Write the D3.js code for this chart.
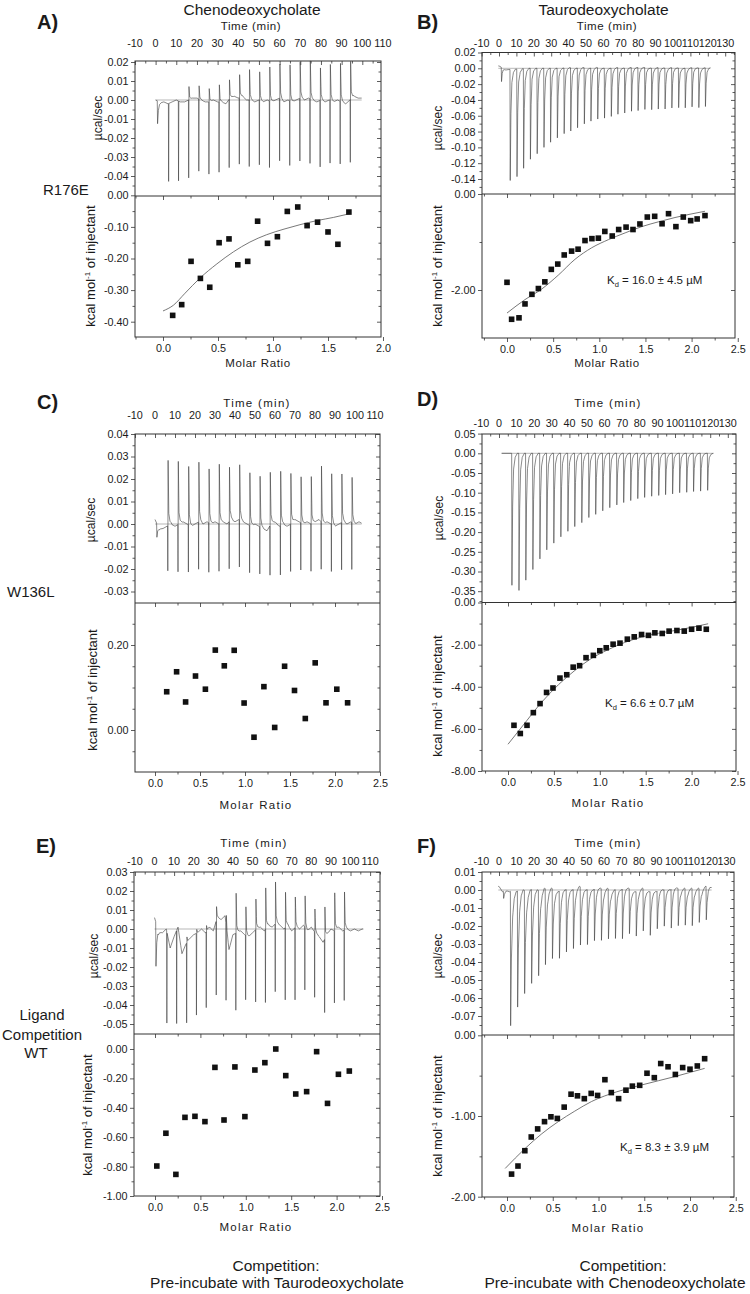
<!DOCTYPE html>
<html><head><meta charset="utf-8">
<script src="https://cdn.jsdelivr.net/npm/d3@7"></script>
<style>
body{margin:0;background:#fff;}
svg text{font-family:"Liberation Sans",Arial,sans-serif;fill:#1a1a1a;}
</style></head><body>
<svg id="c" width="750" height="1294" xmlns="http://www.w3.org/2000/svg"></svg>
<script>
// ================= DATA =================
// ---- Panel A (R176E, Chenodeoxycholate) ----
const aInjT = [6.2, 11.0, 15.9, 20.8, 25.7, 30.6, 35.5, 40.4, 45.2, 50.1, 55.0, 59.9, 64.8, 69.7, 74.6, 79.5, 84.3, 89.2, 94.1];
const aInjMin = [-0.041, -0.042, -0.041, -0.038, -0.038, -0.037, -0.036, -0.035, -0.035, -0.034, -0.035, -0.033, -0.034, -0.033, -0.034, -0.035, -0.033, -0.033, -0.033];
const aInjMax = [0.000, 0.000, 0.007, 0.007, 0.007, 0.009, 0.010, 0.012, 0.016, 0.015, 0.018, 0.018, 0.019, 0.019, 0.020, 0.017, 0.019, 0.020, 0.020];
const aBase = [0.000,-0.001,-0.001,-0.002,-0.001,0.000,-0.001,-0.001,0.000,0.001,0.001,0.000,-0.001,-0.001,0.000,-0.001,-0.001,-0.002,0.001,0.002,0.001,0.002,0.000,0.000,-0.001,0.000,-0.001,0.000,-0.001,0.000,0.001,-0.001,0.000,-0.001,0.000,0.001,0.000,0.001,0.000,-0.001,0.000,-0.001,0.000,-0.001,0.000,-0.001,-0.002,0.000,0.002,0.001,0.001];
const aMR = [0.088, 0.17, 0.255, 0.34, 0.425, 0.51, 0.6, 0.68, 0.77, 0.86, 0.95, 1.04, 1.13, 1.225, 1.31, 1.405, 1.5, 1.59, 1.69];
const aHeat = [-0.38, -0.346, -0.209, -0.263, -0.291, -0.15, -0.138, -0.22, -0.209, -0.082, -0.152, -0.131, -0.051, -0.037, -0.096, -0.085, -0.116, -0.155, -0.053];
const aFitMR = [0.0, 0.094, 0.2, 0.336, 0.49, 0.64, 0.79, 0.94, 1.1, 1.245, 1.4, 1.55, 1.7];
const aFitHeat = [-0.366, -0.348, -0.31, -0.262, -0.217, -0.179, -0.148, -0.125, -0.107, -0.093, -0.08, -0.07, -0.058];
const aTopTicks = [0.02, 0.01, 0.00, -0.01, -0.02, -0.03, -0.04];
const aBotTicks = [0.00, -0.10, -0.20, -0.30, -0.40];
const aTimeTicks = [-10, 0, 10, 20, 30, 40, 50, 60, 70, 80, 90, 100, 110];
const aMRTicks = [0.0, 0.5, 1.0, 1.5, 2.0];

// ---- Panel B (R176E, Taurodeoxycholate) ----
const bInjT = [6.3, 10.2, 14.0, 17.9, 21.8, 25.7, 29.5, 33.4, 37.3, 41.1, 45.0, 48.9, 52.7, 56.6, 60.5, 64.4, 68.2, 72.1, 76.0, 79.8, 83.7, 87.6, 91.4, 95.3, 99.2, 103.1, 106.9, 110.8, 114.7, 118.5];
const bInjMin = [-0.1405, -0.136, -0.126, -0.115, -0.108, -0.100, -0.0935, -0.088, -0.083, -0.080, -0.0755, -0.071, -0.067, -0.065, -0.063, -0.061, -0.059, -0.0566, -0.0553, -0.0545, -0.053, -0.0524, -0.0524, -0.0516, -0.051, -0.050, -0.050, -0.0495, -0.050, -0.049];
const bBase = [0.003,-0.002,-0.001,-0.001,0,0,0,0,0,0,0.001,0,0.001,0,0.001,0,0,0.001,0,0.001,0.001,0.001,0,0.001,0,0.001,0,0,0.001,0,0.001];
const bMR = [0.0, 0.05, 0.13, 0.195, 0.27, 0.34, 0.41, 0.48, 0.55, 0.62, 0.70, 0.77, 0.845, 0.92, 0.99, 1.06, 1.14, 1.21, 1.29, 1.365, 1.44, 1.52, 1.60, 1.68, 1.75, 1.83, 1.91, 1.99, 2.06, 2.145];
const bHeat = [-1.84, -2.61, -2.58, -2.29, -2.09, -1.97, -1.83, -1.57, -1.46, -1.27, -1.19, -1.15, -0.97, -0.93, -0.92, -0.78, -0.875, -0.74, -0.69, -0.74, -0.625, -0.48, -0.465, -0.62, -0.41, -0.68, -0.48, -0.555, -0.52, -0.45];
const bFitMR = [0.0, 0.195, 0.376, 0.556, 0.737, 0.918, 1.1, 1.28, 1.46, 1.64, 1.82, 2.145];
const bFitHeat = [-2.48, -2.2, -1.98, -1.69, -1.36, -1.12, -0.95, -0.81, -0.68, -0.58, -0.49, -0.36];
const bTopTicks = [0.02, 0.00, -0.02, -0.04, -0.06, -0.08, -0.10, -0.12, -0.14];
const bBotTicks = [0.00, -2.00];
const bTimeTicks = [-10, 0, 10, 20, 30, 40, 50, 60, 70, 80, 90, 100, 110, 120, 130];
const bMRTicks = [0.0, 0.5, 1.0, 1.5, 2.0, 2.5];

// ---- Panel C (W136L, Chenodeoxycholate) ----
const cInjT = [6.3, 11.4, 16.6, 21.7, 26.8, 31.9, 37.0, 42.1, 47.2, 52.3, 57.4, 62.6, 67.7, 72.8, 77.9, 83.0, 88.1, 93.2, 98.3];
const cInjMin = [-0.020, -0.021, -0.021, -0.021, -0.022, -0.021, -0.021, -0.021, -0.021, -0.021, -0.022, -0.022, -0.021, -0.021, -0.021, -0.021, -0.021, -0.021, -0.021];
const cInjMax = [0.029, 0.028, 0.026, 0.0265, 0.024, 0.0265, 0.024, 0.0245, 0.0235, 0.0225, 0.0235, 0.024, 0.0225, 0.0205, 0.021, 0.025, 0.0225, 0.0215, 0.020];
const cBase = [0.002,-0.002,-0.002,-0.001,0.000,-0.001,0.000,0.001,0.000,-0.001,0.000,0.001,0.000,0.001,0.000,0.001,0.000,0.001,0.000,0.002,0.001,0.002,0.001,0.000,-0.001,0.000,-0.001,-0.002,-0.003,0.000,0.001,-0.001,0.000,-0.001,0.000,0.002,0.001,0.000,0.001,0.000,0.001,0.002,0.000,0.001,0.000,-0.001,0.000,0.001,0.000,0.001,0.000,0.001,0.000];
const cMR = [0.13, 0.24, 0.34, 0.45, 0.56, 0.67, 0.77, 0.88, 0.99, 1.10, 1.21, 1.33, 1.44, 1.55, 1.67, 1.78, 1.90, 2.02, 2.14];
const cHeat = [0.090, 0.137, 0.066, 0.127, 0.096, 0.188, 0.151, 0.1875, 0.0635, -0.017, 0.102, 0.006, 0.150, 0.093, 0.027, 0.158, 0.064, 0.096, 0.064];
const cTopTicks = [0.04, 0.03, 0.02, 0.01, 0.00, -0.01, -0.02, -0.03];
const cBotTicks = [0.20, 0.00];
const cTimeTicks = [-10, 0, 10, 20, 30, 40, 50, 60, 70, 80, 90, 100, 110];
const cMRTicks = [0.0, 0.5, 1.0, 1.5, 2.0, 2.5];

// ---- Panel D (W136L, Taurodeoxycholate) ----
const dInjT = [7.2, 11.2, 15.1, 19.1, 23.1, 27.0, 31.0, 35.0, 39.0, 42.9, 46.9, 50.9, 54.8, 58.8, 62.8, 66.8, 70.7, 74.7, 78.7, 82.6, 86.6, 90.6, 94.5, 98.5, 102.5, 106.5, 110.4, 114.4, 118.4];
const dInjMin = [-0.335, -0.348, -0.322, -0.295, -0.268, -0.245, -0.228, -0.212, -0.198, -0.186, -0.176, -0.163, -0.155, -0.146, -0.138, -0.131, -0.125, -0.120, -0.115, -0.112, -0.109, -0.107, -0.105, -0.103, -0.100, -0.099, -0.097, -0.096, -0.094];
const dBase = [0, 0, 0, 0, 0, 0, 0];
const dMR = [0.065, 0.134, 0.207, 0.276, 0.349, 0.42, 0.49, 0.566, 0.64, 0.71, 0.78, 0.85, 0.93, 1.0, 1.07, 1.145, 1.22, 1.30, 1.375, 1.455, 1.53, 1.60, 1.68, 1.755, 1.84, 1.92, 2.0, 2.08, 2.16];
const dHeat = [-5.83, -6.22, -5.83, -5.23, -4.80, -4.27, -4.06, -3.59, -3.43, -3.07, -3.0, -2.62, -2.51, -2.29, -2.15, -1.98, -1.93, -1.74, -1.63, -1.52, -1.56, -1.44, -1.47, -1.36, -1.33, -1.36, -1.27, -1.22, -1.27];
const dFitMR = [0.0, 0.15, 0.37, 0.55, 0.73, 0.9, 1.09, 1.27, 1.455, 1.64, 1.82, 2.0, 2.18];
const dFitHeat = [-6.73, -5.91, -4.72, -3.9, -3.22, -2.68, -2.24, -1.9, -1.64, -1.46, -1.33, -1.18, -1.01];
const dTopTicks = [0.05, 0.00, -0.05, -0.10, -0.15, -0.20, -0.25, -0.30, -0.35];
const dBotTicks = [0.00, -2.00, -4.00, -6.00, -8.00];
const dTimeTicks = [-10, 0, 10, 20, 30, 40, 50, 60, 70, 80, 90, 100, 110, 120, 130];
const dMRTicks = [0.0, 0.5, 1.0, 1.5, 2.0, 2.5];

// ---- Panel E (WT ligand competition, pre-incubated with Taurodeoxycholate) ----
const eInjT = [6.2, 11.2, 16.3, 21.3, 26.3, 31.4, 36.4, 41.4, 46.4, 51.5, 56.5, 61.5, 66.6, 71.6, 76.6, 81.6, 86.7, 91.7, 96.7];
const eInjMin = [-0.048, -0.049, -0.042, -0.043, -0.040, -0.039, -0.040, -0.0405, -0.034, -0.038, -0.0386, -0.0356, -0.038, -0.038, -0.033, -0.0344, -0.0386, -0.038, -0.037];
const eInjMax = [0.000, 0.000, 0.003, 0.002, 0.003, 0.007, 0.006, 0.021, 0.015, 0.016, 0.0215, 0.022, 0.0185, 0.016, 0.0167, 0.0123, 0.0167, 0.020, 0.020];
const eBase = [0.006,-0.001,-0.002,0.000,-0.010,-0.004,0.001,-0.013,-0.008,-0.005,-0.003,-0.002,0.000,-0.002,0.001,-0.001,0.006,0.005,0.007,-0.011,-0.003,-0.002,-0.001,-0.003,-0.004,-0.002,0.000,0.001,-0.001,0.002,0.001,0.003,0.002,0.000,0.002,-0.001,0.001,0.000,0.002,-0.001,0.001,-0.002,-0.004,-0.007,-0.003,0.000,-0.001,0.001,-0.001,0.000,-0.001,0.000,-0.001,0.000];
const eMR = [0.02, 0.12, 0.23, 0.33, 0.44, 0.55, 0.66, 0.76, 0.88, 0.99, 1.10, 1.21, 1.33, 1.44, 1.55, 1.67, 1.78, 1.90, 2.02, 2.14];
const eHeat = [-0.796, -0.573, -0.853, -0.465, -0.458, -0.494, -0.125, -0.483, -0.122, -0.46, -0.143, -0.093, 0.0, -0.181, -0.306, -0.29, -0.018, -0.37, -0.172, -0.15];
const eTopTicks = [0.03, 0.02, 0.01, 0.00, -0.01, -0.02, -0.03, -0.04, -0.05];
const eBotTicks = [0.00, -0.20, -0.40, -0.60, -0.80, -1.00];
const eTimeTicks = [-10, 0, 10, 20, 30, 40, 50, 60, 70, 80, 90, 100, 110];
const eMRTicks = [0.0, 0.5, 1.0, 1.5, 2.0, 2.5];

// ---- Panel F (WT ligand competition, pre-incubated with Chenodeoxycholate) ----
const fInjT = [6.5, 10.5, 14.5, 18.5, 22.5, 26.4, 30.4, 34.4, 38.4, 42.4, 46.4, 50.4, 54.4, 58.4, 62.4, 66.4, 70.4, 74.4, 78.3, 82.3, 86.3, 90.3, 94.3, 98.3, 102.3, 106.3, 110.3, 114.3, 118.3];
const fInjMin = [-0.0747, -0.0647, -0.0572, -0.0522, -0.0473, -0.0422, -0.0388, -0.0375, -0.0347, -0.0328, -0.0323, -0.0306, -0.0287, -0.0287, -0.0276, -0.0272, -0.0276, -0.025, -0.0248, -0.0235, -0.0244, -0.021, -0.0203, -0.0216, -0.0206, -0.0203, -0.0206, -0.0188, -0.0188];
const fBase = [0.002,-0.001,0.000,-0.001,0.000,-0.001,0.001,0.000,-0.001,0.000,0.001,0.000,-0.001,0.001,0.000,0.001,0.000,-0.001,0.001,0.000,0.001,0.000,0.001,0.002,0.001,0.000,0.001,0.000,0.002,0.001,0.000,0.001,-0.001,0.000,0.001,0.000,0.002,0.001,0.000,-0.001,0.000,0.001,0.000,-0.001,0.000,-0.001,0.001,0.000,0.001,0.000,0.002,0.001,0.000,0.001,0.000,0.001,0.000,0.001,0.000,0.002,0.003,0.001];
const fMR = [0.05, 0.12, 0.195, 0.265, 0.335, 0.41, 0.48, 0.55, 0.625, 0.70, 0.77, 0.845, 0.92, 0.99, 1.07, 1.14, 1.22, 1.30, 1.37, 1.45, 1.53, 1.61, 1.68, 1.76, 1.84, 1.92, 2.0, 2.08, 2.16];
const fHeat = [-1.72, -1.62, -1.43, -1.26, -1.16, -1.07, -1.01, -1.03, -0.89, -0.73, -0.75, -0.785, -0.72, -0.745, -0.55, -0.71, -0.785, -0.68, -0.63, -0.62, -0.47, -0.525, -0.35, -0.39, -0.485, -0.40, -0.42, -0.38, -0.29];
const fFitMR = [-0.02, 0.2, 0.38, 0.56, 0.74, 0.925, 1.2, 1.47, 1.84, 2.16];
const fFitHeat = [-1.65, -1.4, -1.22, -1.07, -0.94, -0.82, -0.7, -0.616, -0.51, -0.41];
const fTopTicks = [0.01, 0.00, -0.01, -0.02, -0.03, -0.04, -0.05, -0.06, -0.07];
const fBotTicks = [0.00, -1.00, -2.00];
const fTimeTicks = [-10, 0, 10, 20, 30, 40, 50, 60, 70, 80, 90, 100, 110, 120, 130];
const fMRTicks = [0.0, 0.5, 1.0, 1.5, 2.0, 2.5];

// ================= DRAWING =================
const FONT = '"Liberation Sans", Arial, sans-serif';
const svg = d3.select("#c");
const INK = "#1a1a1a";

function txt(g, x, y, s, o = {}) {
  const t = g.append("text").attr("x", x).attr("y", y).text(s)
    .attr("font-size", o.size || 11).attr("text-anchor", o.anchor || "start");
  if (o.family) t.attr("font-family", o.family);
  if (o.weight) t.attr("font-weight", o.weight);
  if (o.ls) t.attr("letter-spacing", o.ls);
  return t;
}
function inRange(lo, hi, step) {
  const a = Math.min(lo, hi), b = Math.max(lo, hi);
  const out = [];
  for (let k = Math.ceil(a / step - 1e-6); k <= Math.floor(b / step + 1e-6); k++) out.push(+(k * step).toFixed(6));
  return out;
}
function fmt2(v) { return (Math.round(v * 100) / 100).toFixed(2).replace(/^-0\.00$/, "0.00"); }
function fmt1(v) { return (Math.round(v * 10) / 10).toFixed(1); }
function styleAxis(a, fs) {
  a.select(".domain").remove();
  a.selectAll("line").attr("stroke", "#333").attr("stroke-width", 0.8);
  a.selectAll("text").attr("font-size", fs).attr("font-family", FONT).attr("fill", INK);
}
function addAxis(g, gen, tx, ty, fs) {
  const a = g.append("g").attr("transform", `translate(${tx},${ty})`).call(gen);
  styleAxis(a, fs || 10.8);
  return a;
}

// build an ITC trace from baseline samples + injection peak heights
const negTpl = { off: [0, 0.15, 0.55, 1.1, 2.0, 3.2], f: [0, 1, 0.4, 0.12, 0.03, 0] };
const slowTpl = { off: [0, 0.15, 0.6, 1.3, 2.2, 3.3], f: [0, 1, 0.5, 0.2, 0.06, 0] };
function buildTrace(P) {
  const step = P.baseStep;
  const base = t => {
    const u = Math.max(0, Math.min(P.base.length - 1, t / step));
    const i = Math.min(P.base.length - 2, Math.floor(u));
    const fr = u - i;
    return P.base[i] * (1 - fr) + P.base[i + 1] * fr;
  };
  const spikes = [];
  if (P.pre) spikes.push({ t: P.pre.t, min: P.pre.v, max: 0, type: "neg" });
  P.injT.forEach((t, i) => spikes.push({ t, min: P.injMin[i], max: P.injMax ? P.injMax[i] : 0, type: P.injMax ? "ud" : "neg" }));
  function shape(s) {
    if (s.type === "ud") {
      return { off: [0, 0.1, 0.25, 0.6, 1.2, 2.2], v: [0, s.min, s.max, 0.18 * s.max, 0.05 * s.max, 0] };
    }
    const tp = P.slow ? slowTpl : negTpl;
    return { off: tp.off, v: tp.f.map(f => f * s.min) };
  }
  const shapes = spikes.map(s => ({ t: s.t, ...shape(s) }));
  let times = [];
  for (let t = 0; t <= P.tEnd + 1e-6; t += step) if (t >= P.tStart) times.push(t);
  times.push(P.tStart, P.tEnd);
  shapes.forEach(s => s.off.forEach(o => times.push(s.t + o)));
  times = Array.from(new Set(times.map(t => +t.toFixed(4)))).filter(t => t >= P.tStart && t <= P.tEnd).sort((a, b) => a - b);
  return times.map(t => {
    let v = base(t);
    shapes.forEach(s => {
      const last = s.off[s.off.length - 1];
      if (t >= s.t && t <= s.t + last) {
        const d = t - s.t;
        let j = 0;
        while (j < s.off.length - 2 && d > s.off[j + 1]) j++;
        const fr = (d - s.off[j]) / (s.off[j + 1] - s.off[j]);
        v += s.v[j] * (1 - fr) + s.v[j + 1] * fr;
      }
    });
    return { t, v };
  });
}

function drawPanel(P) {
  const g = svg.append("g");
  const xT = d3.scaleLinear().domain(P.tDom).range(P.tRng);
  const xM = d3.scaleLinear().domain(P.mDom).range(P.mRng);
  const yT = d3.scaleLinear().domain(P.topDom).range(P.topRng);
  const yB = d3.scaleLinear().domain(P.botDom).range(P.botRng);
  const x0 = P.x0, x1 = P.x1, yt = P.yt, ym = P.ym, yb = P.yb;

  // ---- top plot: time axis (labels above, ticks inward) ----
  const tMinor = inRange(xT.invert(x0), xT.invert(x1), 5).filter(v => v % 10 !== 0);
  const tMajor = P.timeTicks.filter(v => xT(v) >= x0 - 0.5 && xT(v) <= x1 + 0.5);
  addAxis(g, d3.axisTop(xT).tickValues(tMajor).tickSizeInner(-4).tickSizeOuter(0).tickFormat(""), 0, yt);
  addAxis(g, d3.axisTop(xT).tickValues(tMinor).tickSizeInner(-2.5).tickSizeOuter(0).tickFormat(""), 0, yt);
  const tl = g.append("g");
  P.timeTicks.forEach(v => txt(tl, xT(v), P.timeLabY, String(v), { size: 10.8, anchor: "middle" }));

  // top plot y axis
  const topLo = yT.invert(ym), topHi = yT.invert(yt);
  const topMaj = P.topTicks.filter(v => yT(v) >= yt - 0.5 && yT(v) <= ym - 1);
  const topMin = inRange(topLo, topHi, P.topMinor).filter(v => !P.topTicks.some(m => Math.abs(m - v) < 1e-6) && yT(v) < ym - 1);
  addAxis(g, d3.axisLeft(yT).tickValues(topMaj).tickSizeInner(4).tickSizeOuter(0).tickPadding(2.5).tickFormat(fmt2), x0, 0);
  addAxis(g, d3.axisLeft(yT).tickValues(topMin).tickSizeInner(2.5).tickSizeOuter(0).tickFormat(""), x0, 0);
  addAxis(g, d3.axisRight(yT).tickValues(topMaj).tickSizeInner(-4).tickSizeOuter(0).tickFormat(""), x1, 0);
  addAxis(g, d3.axisRight(yT).tickValues(topMin).tickSizeInner(-2.5).tickSizeOuter(0).tickFormat(""), x1, 0);

  // ---- bottom plot axes ----
  const botLo = yB.invert(yb), botHi = yB.invert(ym);
  const botMaj = P.botTicks.filter(v => yB(v) >= ym - 1.5 && yB(v) <= yb + 0.5);
  const botMin = inRange(botLo, botHi, P.botMinor).filter(v => !P.botTicks.some(m => Math.abs(m - v) < 1e-6) && yB(v) > ym + 1 && yB(v) < yb - 1);
  addAxis(g, d3.axisLeft(yB).tickValues(botMaj).tickSizeInner(4).tickSizeOuter(0).tickPadding(2.5).tickFormat(fmt2), x0, 0);
  addAxis(g, d3.axisLeft(yB).tickValues(botMin).tickSizeInner(2.5).tickSizeOuter(0).tickFormat(""), x0, 0);
  addAxis(g, d3.axisRight(yB).tickValues(botMaj.filter(v => yB(v) > ym + 1)).tickSizeInner(-4).tickSizeOuter(0).tickFormat(""), x1, 0);
  addAxis(g, d3.axisRight(yB).tickValues(botMin).tickSizeInner(-2.5).tickSizeOuter(0).tickFormat(""), x1, 0);

  const mMaj = P.mrTicks;
  const mMin = inRange(xM.invert(x0), xM.invert(x1), 0.25).filter(v => Math.abs(v * 2 - Math.round(v * 2)) > 1e-6);
  addAxis(g, d3.axisBottom(xM).tickValues(mMaj.filter(v => xM(v) <= x1 + 3)).tickSizeInner(4).tickSizeOuter(0).tickPadding(3).tickFormat(fmt1), 0, yb);
  addAxis(g, d3.axisBottom(xM).tickValues(mMin).tickSizeInner(2.5).tickSizeOuter(0).tickFormat(""), 0, yb);
  addAxis(g, d3.axisTop(xM).tickValues(mMaj.filter(v => xM(v) < x1 - 1)).tickSizeInner(-4).tickSizeOuter(0).tickFormat(""), 0, ym);
  addAxis(g, d3.axisTop(xM).tickValues(mMin).tickSizeInner(-2.5).tickSizeOuter(0).tickFormat(""), 0, ym);

  // frames
  g.append("rect").attr("x", x0).attr("y", yt).attr("width", x1 - x0).attr("height", yb - yt)
    .attr("fill", "none").attr("stroke", "#333").attr("stroke-width", 1);
  g.append("line").attr("x1", x0).attr("x2", x1).attr("y1", ym).attr("y2", ym)
    .attr("stroke", "#333").attr("stroke-width", 1);

  // ---- thermogram ----
  const tr = buildTrace(P);
  g.append("line").attr("x1", xT(P.tStart)).attr("x2", xT(P.tEnd)).attr("y1", yT(0)).attr("y2", yT(0))
    .attr("stroke", "#888").attr("stroke-width", 0.6);
  g.append("path").datum(tr)
    .attr("d", d3.line().x(d => xT(d.t)).y(d => yT(d.v)))
    .attr("fill", "none").attr("stroke", "#3a3a3a").attr("stroke-width", 0.6).attr("stroke-linejoin", "round");

  // ---- integrated heats ----
  if (P.fitMR) {
    g.append("path").datum(P.fitMR.map((m, i) => [m, P.fitHeat[i]]))
      .attr("d", d3.line().x(d => xM(d[0])).y(d => yB(d[1])).curve(d3.curveMonotoneX))
      .attr("fill", "none").attr("stroke", "#555").attr("stroke-width", 0.8);
  }
  const S = 5.6;
  g.append("g").selectAll("rect").data(P.mr.map((m, i) => [m, P.heat[i]])).join("rect")
    .attr("x", d => xM(d[0]) - S / 2).attr("y", d => yB(d[1]) - S / 2)
    .attr("width", S).attr("height", S).attr("fill", "#111");

  // ---- titles ----
  txt(g, P.timeTitle[0], P.timeTitle[1], "Time (min)", { size: 11.5, anchor: "middle", ls: P.spaced ? 1.3 : 0.6 });
  txt(g, P.mrTitle[0], P.mrTitle[1], "Molar Ratio", { size: 11.5, anchor: "middle", ls: P.spaced ? 1.3 : 0.6 });
  txt(g, 0, 0, "\u00b5cal/sec", { size: 12 , anchor: "middle" })
    .attr("transform", `translate(${P.ut[0]},${P.ut[1]}) rotate(-90)`);
  const kt = g.append("text").attr("transform", `translate(${P.kt[0]},${P.kt[1]}) rotate(-90)`)
    .attr("text-anchor", "middle").attr("font-size", 13);
  kt.append("tspan").text("kcal mol");
  kt.append("tspan").attr("dy", -5).attr("font-size", 8).text("-1");
  kt.append("tspan").attr("dy", 5).text(" of injectant");

  txt(g, P.letter[0], P.letter[1], P.letterText, { size: 20, weight: "bold", family: '"Liberation Serif","Times New Roman",serif' });

  if (P.kd) {
    const k = g.append("text").attr("x", P.kd[0]).attr("y", P.kd[1]).attr("font-size", 11.5);
    k.append("tspan").text("K");
    k.append("tspan").attr("dy", 3).attr("font-size", 7.5).text("d");
    k.append("tspan").attr("dy", -3).text(" = " + P.kdText);
  }
}

const panels = [
  { letterText: "A)", letter: [37, 29], x0: 135, x1: 381, yt: 61, ym: 196, yb: 337,
    tDom: [0, 100], tRng: [155.6, 362.3], mDom: [0, 1.5], mRng: [163, 328],
    topDom: [0, 0.02], topRng: [100, 62], botDom: [0, -0.4], botRng: [195.3, 321.7],
    topTicks: aTopTicks, topMinor: 0.005, botTicks: aBotTicks, botMinor: 0.05,
    timeTicks: aTimeTicks, mrTicks: aMRTicks, timeLabY: 47,
    timeTitle: [251, 30], mrTitle: [258, 367], ut: [102, 118], kt: [95, 266],
    injT: aInjT, injMin: aInjMin, injMax: aInjMax, base: aBase, baseStep: 2, tStart: 0, tEnd: 99.7, pre: { t: 0.8, v: -0.012 },
    mr: aMR, heat: aHeat, fitMR: aFitMR, fitHeat: aFitHeat },
  { letterText: "B)", letter: [417, 29], x0: 482, x1: 735, yt: 52.5, ym: 194, yb: 338,
    tDom: [0, 120], tRng: [499, 707.8], mDom: [0, 2.0], mRng: [507, 691.6],
    topDom: [0, -0.14], topRng: [68.3, 179], botDom: [0, -2], botRng: [194, 290],
    topTicks: bTopTicks, topMinor: 0.01, botTicks: bBotTicks, botMinor: 1.0,
    timeTicks: bTimeTicks, mrTicks: bMRTicks, timeLabY: 47,
    timeTitle: [607, 30], mrTitle: [607, 367], ut: [442, 128], kt: [442, 266],
    injT: bInjT, injMin: bInjMin, base: bBase, baseStep: 4, tStart: -0.4, tEnd: 121.5, pre: { t: 1.3, v: -0.018 },
    mr: bMR, heat: bHeat, fitMR: bFitMR, fitHeat: bFitHeat, kd: [607, 284], kdText: "16.0 \u00b1 4.5 \u00b5M" },
  { letterText: "C)", letter: [37, 409], x0: 135, x1: 380, yt: 434, ym: 603, yb: 772,
    tDom: [0, 100], tRng: [155, 355], mDom: [0, 2.0], mRng: [155, 335],
    topDom: [0, 0.04], topRng: [524, 434], botDom: [0, 0.2], botRng: [730, 645],
    topTicks: cTopTicks, topMinor: 0.005, botTicks: cBotTicks, botMinor: 0.05,
    timeTicks: cTimeTicks, mrTicks: cMRTicks, timeLabY: 419, spaced: true,
    timeTitle: [257, 407], mrTitle: [256, 809], ut: [95, 520], kt: [97, 690],
    injT: cInjT, injMin: cInjMin, injMax: cInjMax, base: cBase, baseStep: 2, tStart: 0, tEnd: 103.3, pre: { t: 0.8, v: -0.006 },
    mr: cMR, heat: cHeat },
  { letterText: "D)", letter: [417, 406], x0: 482, x1: 736, yt: 434, ym: 602.5, yb: 771,
    tDom: [0, 120], tRng: [499, 710.2], mDom: [0, 2.0], mRng: [508, 691.6],
    topDom: [0, -0.35], topRng: [453.3, 591.2], botDom: [0, -8], botRng: [602.5, 771],
    topTicks: dTopTicks, topMinor: 0.025, botTicks: dBotTicks, botMinor: 1.0,
    timeTicks: dTimeTicks, mrTicks: dMRTicks, timeLabY: 427, spaced: true,
    timeTitle: [608, 407], mrTitle: [608, 807], ut: [443, 518], kt: [442, 696],
    injT: dInjT, injMin: dInjMin, base: dBase, baseStep: 20, tStart: 1.5, tEnd: 121.8,
    mr: dMR, heat: dHeat, fitMR: dFitMR, fitHeat: dFitHeat, kd: [605, 707], kdText: "6.6 \u00b1 0.7 \u00b5M" },
  { letterText: "E)", letter: [36, 853], x0: 134, x1: 380, yt: 872, ym: 1034, yb: 1196,
    tDom: [0, 100], tRng: [154.5, 350.5], mDom: [0, 2.0], mRng: [155, 336.6],
    topDom: [0, 0.03], topRng: [929, 872], botDom: [0, -1.0], botRng: [1049, 1196],
    topTicks: eTopTicks, topMinor: 0.005, botTicks: eBotTicks, botMinor: 0.1,
    timeTicks: eTimeTicks, mrTicks: eMRTicks, timeLabY: 865, spaced: true,
    timeTitle: [254, 847], mrTitle: [256, 1231], ut: [98, 956], kt: [92, 1115],
    injT: eInjT, injMin: eInjMin, injMax: eInjMax, base: eBase, baseStep: 2, tStart: 0, tEnd: 106.5, pre: { t: 0.6, v: -0.023 },
    mr: eMR, heat: eHeat },
  { letterText: "F)", letter: [417, 853], x0: 482, x1: 734, yt: 872, ym: 1035, yb: 1197,
    tDom: [0, 120], tRng: [499, 709], mDom: [0, 2.0], mRng: [507, 690],
    topDom: [0, -0.07], topRng: [890, 1016], botDom: [0, -2], botRng: [1035.3, 1196.7],
    topTicks: fTopTicks, topMinor: 0.005, botTicks: fBotTicks, botMinor: 0.5,
    timeTicks: fTimeTicks, mrTicks: fMRTicks, timeLabY: 865, spaced: true,
    timeTitle: [608, 847], mrTitle: [608, 1232], ut: [442, 956], kt: [442, 1116],
    injT: fInjT, injMin: fInjMin, base: fBase, baseStep: 2, tStart: -0.4, tEnd: 121.5, pre: { t: 2.5, v: -0.004 }, slow: true,
    mr: fMR, heat: fHeat, fitMR: fFitMR, fitHeat: fFitHeat, kd: [620, 1151], kdText: "8.3 \u00b1 3.9 \u00b5M" }
];
panels.forEach(drawPanel);

// ---- column titles, row labels, captions ----
const lab = svg.append("g");
txt(lab, 252, 14.5, "Chenodeoxycholate", { size: 15.5, anchor: "middle" });
txt(lab, 603.5, 14.5, "Taurodeoxycholate", { size: 15.5, anchor: "middle" });
txt(lab, 43, 195, "R176E", { size: 15 });
txt(lab, 7, 597, "W136L", { size: 15 });
txt(lab, 42, 1020, "Ligand", { size: 15, anchor: "middle" });
txt(lab, 42, 1040, "Competition", { size: 15, anchor: "middle" });
txt(lab, 36, 1058, "WT", { size: 15, anchor: "middle" });
txt(lab, 276, 1271, "Competition:", { size: 15.5, anchor: "middle" });
txt(lab, 277, 1288, "Pre-incubate with Taurodeoxycholate", { size: 15.5, anchor: "middle" });
txt(lab, 623, 1271, "Competition:", { size: 15.5, anchor: "middle" });
txt(lab, 615, 1288, "Pre-incubate with Chenodeoxycholate", { size: 15.5, anchor: "middle" });
</script>
</body></html>
